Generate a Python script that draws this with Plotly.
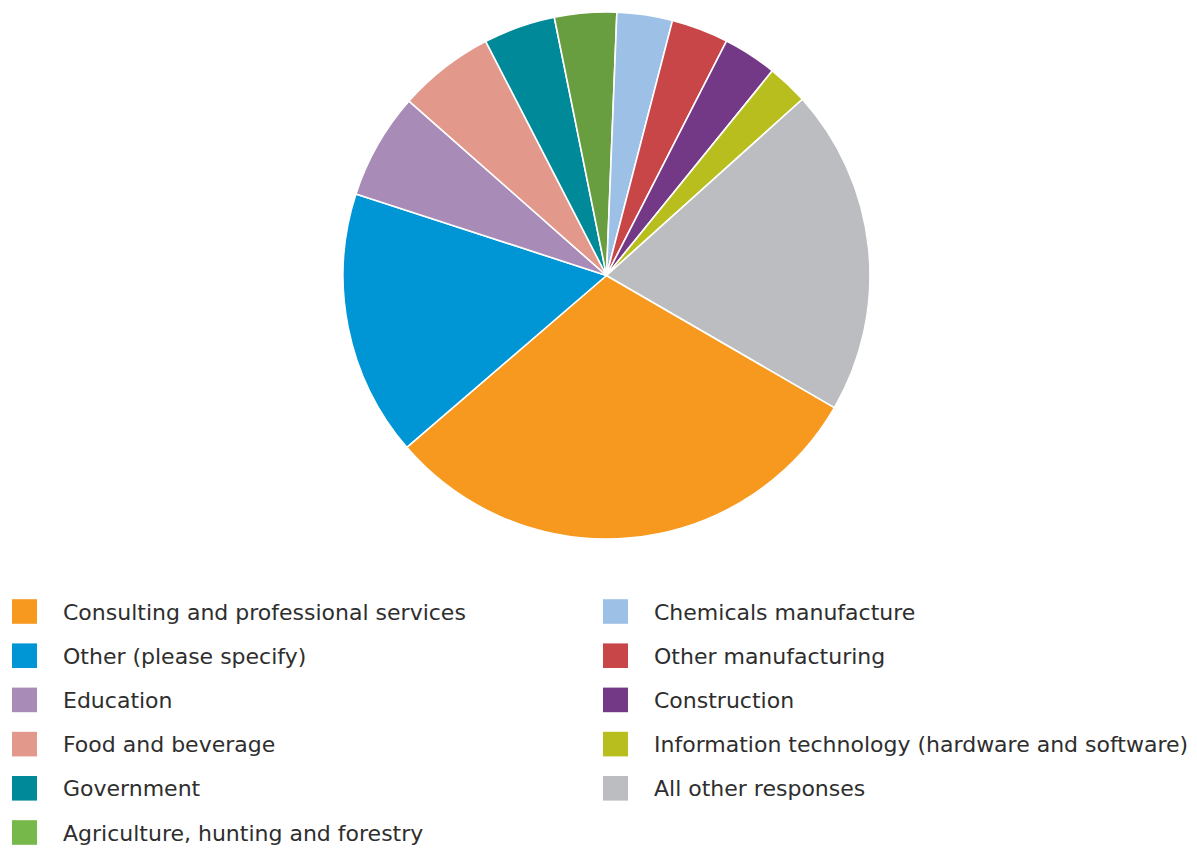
import plotly.graph_objects as go

# Sectors of respondents (share of responses, %)
labels = [
    "Consulting and professional services",
    "Other (please specify)",
    "Education",
    "Food and beverage",
    "Government",
    "Agriculture, hunting and forestry",
    "Chemicals manufacture",
    "Other manufacturing",
    "Construction",
    "Information technology (hardware and software)",
    "All other responses",
]
values = [30.3, 16.3, 6.5, 5.9, 4.4, 3.8, 3.4, 3.5, 3.3, 2.5, 20.0]
slice_colors = [
    "#F7991F", "#0096D6", "#A98BB7", "#E2998B", "#008A99", "#689E40",
    "#9DC1E6", "#C94648", "#733886", "#B8BE1E", "#BCBDC1",
]
key_colors = [
    "#F7991F", "#0096D6", "#A98BB7", "#E2998B", "#008A99", "#77B84A",
    "#9DC1E6", "#C94648", "#733886", "#B8BE1E", "#BCBDC1",
]
left_column_rows = 6

W, H = 1197, 848
FONT = "DejaVu Sans"
TEXT_COLOR = "#2E2E2E"

fig = go.Figure(
    go.Pie(
        labels=labels,
        values=values,
        sort=False,
        direction="clockwise",
        rotation=120.1,
        marker=dict(colors=slice_colors, line=dict(color="white", width=1.6)),
        textinfo="none",
        hoverinfo="label+percent",
        showlegend=False,
        domain=dict(x=[343 / W, 870 / W], y=[1 - 539 / H, 1 - 12 / H]),
    )
)

# Two-column key drawn as swatches and labels
shapes, annotations = [], []
for i, (lab, col) in enumerate(zip(labels, key_colors)):
    c = 0 if i < left_column_rows else 1
    r = i if c == 0 else i - left_column_rows
    x0 = 12 + c * 591
    yc = 611.5 + r * 44.2
    shapes.append(dict(
        type="rect", xref="paper", yref="paper",
        x0=x0 / W, x1=(x0 + 25) / W,
        y0=1 - (yc - 12.3) / H, y1=1 - (yc + 12.3) / H,
        fillcolor=col, line=dict(width=0),
    ))
    annotations.append(dict(
        x=(x0 + 49) / W, y=1 - (yc + 0.5) / H, xref="paper", yref="paper",
        xanchor="left", yanchor="middle", showarrow=False,
        text=lab, font=dict(family=FONT, size=22, color=TEXT_COLOR),
    ))

fig.update_layout(
    width=W, height=H,
    margin=dict(l=0, r=0, t=0, b=0),
    paper_bgcolor="white", plot_bgcolor="white",
    shapes=shapes, annotations=annotations,
)

fig.write_html("out.html")
